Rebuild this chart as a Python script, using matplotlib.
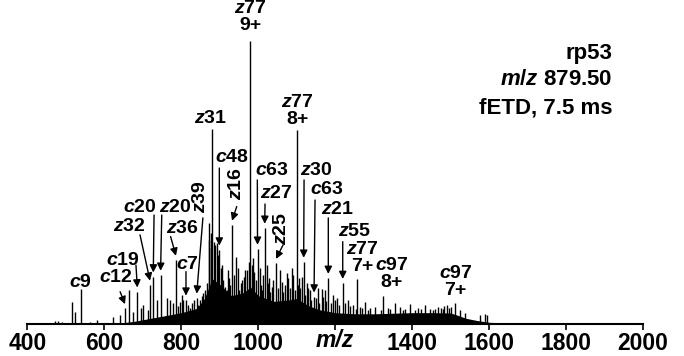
import matplotlib
matplotlib.use('Agg')
import matplotlib.pyplot as plt
from matplotlib.transforms import blended_transform_factory

plt.rcParams['font.family'] = ['Liberation Sans', 'DejaVu Sans']
plt.rcParams['font.weight'] = 'bold'
plt.rcParams['mathtext.fontset'] = 'custom'
plt.rcParams['mathtext.it'] = 'Liberation Sans:italic:bold'
plt.rcParams['mathtext.rm'] = 'Liberation Sans:bold'
plt.rcParams['mathtext.bf'] = 'Liberation Sans:bold'

# resolved peaks: m/z and relative intensity (%)
peak_mz = [471.5, 480, 489, 515, 523.5, 538.3, 562.5, 581.5, 606, 623, 640.5,
           653.5, 664, 675, 685.5, 694, 701, 714, 718.5, 727, 736, 746, 762,
           770.5, 779, 786, 796.5, 801, 812, 818, 827, 840, 848.5, 857, 866,
           872.7, 876, 880.5, 887.5, 892, 898.7, 905.7, 913.5, 924, 931.7,
           942, 954.3, 963.7, 970.7, 978.5, 985.5, 998, 1007, 1016.7, 1022.7,
           1028.7, 1035, 1046, 1061, 1074, 1087, 1100, 1106, 1118, 1126,
           1134.5, 1145, 1156, 1165, 1173.5, 1182, 1195, 1204.7, 1219.5, 1233,
           1257.5, 1277.5, 1323.5, 1355.5, 1394.5, 1433.5, 1483, 1501, 1511.5,
           1576.5, 1589.5]
peak_int = [1.2, 0.9, 0.7, 7.8, 4.3, 12.3, 0.7, 1.4, 0.5, 2.6, 3.2,
            5.5, 12.0, 4.3, 11.4, 5.6, 6.7, 5.0, 13.8, 16.7, 8.5, 17.3, 9.1,
            8.5, 7.4, 22.6, 7.9, 10.2, 8.5, 6.7, 7.3, 9.2, 8.5, 10.8, 14.4,
            35.6, 26.7, 68.9, 27.9, 28.6, 26.2, 20.8, 13.2, 16.3, 35.0,
            23.8, 14.5, 16.7, 19.0, 100.0, 23.2, 26.5, 13.8, 33.9, 20.9,
            16.3, 13.2, 21.5, 15.0, 17.9, 19.7, 68.6, 16.3, 21.9, 14.4,
            12.0, 9.6, 12.7, 12.3, 12.0, 16.2, 10.2, 9.2, 14.4, 8.5,
            15.8, 7.8, 9.9, 7.4, 7.1, 6.7, 6.4, 6.0, 7.5,
            3.2, 3.4]

# smaller peaks in the crowded region
minor_mz = [791.3, 804.3, 822.5, 832.9, 843.3, 853.7, 861.5, 870.6, 877.1,
            883.6, 894, 903.1, 908.3, 917.4, 921.3, 926.5, 936.9, 947.3, 949.9,
            957.7, 965.5, 975.9, 982.4, 988.9, 994.1, 1004.5, 1009.7, 1012.3,
            1025.3, 1030.5, 1038.3, 1051.3, 1056.5, 1064.3, 1069.5, 1077.3,
            1082.5, 1090.3, 1095.5, 1103.3, 1108.5, 1113.7, 1121.5, 1129.3,
            1137.1, 1150.1, 1157.9, 1168.3, 1176.1, 1189.1, 1199.5, 1209.9,
            1225.5, 1238.5, 1246.3, 1264.5, 1290.5, 1303.5, 1337.3, 1368.5,
            1381.5, 1415.3, 1446.5, 1467.3, 1490.7, 1524.5, 1537.5,
            1253, 1269, 1284, 1318, 1342, 1375, 1407.5, 1422, 1455, 1460,
            1475, 1481, 1495, 1594]
minor_int = [6.4, 8.5, 5.7, 8.5, 6.7, 9.9, 12.0, 29.7, 32.2,
             29.0, 24.4, 19.8, 15.6, 12.0, 19.1, 13.8, 17.3, 19.8, 12.0,
             15.6, 19.1, 21.9, 20.9, 18.4, 15.6, 19.8, 12.0, 17.3,
             14.5, 11.3, 15.6, 12.7, 19.1, 11.3, 13.8, 16.3,
             12.7, 17.3, 12.0, 13.8, 12.7, 16.6, 10.2, 12.7,
             8.5, 9.2, 7.4, 9.5, 8.1, 7.4, 8.5, 6.7,
             7.4, 6.4, 6.7, 6.0, 5.7, 6.0, 5.7, 6.0,
             5.3, 5.7, 5.3, 6.0, 6.7, 4.9, 3.9,
             5.2, 5.5, 4.8, 5.0, 5.4, 5.1, 4.9, 5.2, 4.9, 5.3,
             5.5, 5.2, 5.8, 3.2]

# unresolved chemical noise
env_mz = [400, 600, 640, 680, 720, 760, 800, 840, 860, 880, 900, 930, 960,
          980, 1000, 1040, 1080, 1100, 1130, 1160, 1200, 1250, 1300, 1350,
          1400, 1450, 1500, 1520, 1540, 1570, 1600, 1650, 1700, 1800, 1900,
          2000]
env_int = [0, 0, 0.3, 1.0, 2.0, 3.0, 4.0, 5.5, 9, 16, 14, 10, 11,
           13, 10, 8, 8.5, 9, 6.5, 5, 4, 3.6, 3.6, 3.8,
           4.0, 4.0, 3.9, 3.0, 2.0, 1.2, 0.6, 0.35, 0.3, 0.2, 0.12,
           0]

# fragment ions labelled straight above the peak
top_labels = ['$c$9', '$z$31', '$z$77\n9+', '$z$77\n8+', '$z$77\n7+',
              '$c$97\n8+', '$c$97\n7+']
top_text_xy = [(537.8, 14.8), (876, 72.5), (979.8, 108.5), (1102, 75.3),
               (1269.7, 23.4), (1347, 17.6), (1513, 14.7)]

# fragment ions labelled with an arrow: label, peak m/z
arrow_labels = ['$c$12', '$c$19', '$z$32', '$c$20', '$z$20', '$z$36', '$c$7',
                '$z$39', '$c$48', '$z$16', '$c$63', '$z$27', '$z$25', '$z$30',
                '$c$63', '$z$21', '$z$55']
arrow_mz = [653.5, 685.5, 718.5, 727, 746, 786, 812, 840, 898.7, 931.7, 998,
            1016.7, 1046, 1118, 1145, 1182, 1219.5]
arrow_text_xy = [(630, 16.6), (648.3, 22.4), (664, 34.4), (692.5, 41.3),
                 (783.5, 41.3), (801.7, 33.6), (817, 21.2), (848.5, 44.9),
                 (931, 58.7), (943.9, 49.5), (1035, 54.2), (1048, 46.2),
                 (1061, 33.6), (1152, 54.4), (1178, 47.4), (1205.5, 40.6),
                 (1249, 32.6)]
arrow_tail_xy = [(640.8, 11.4), (682, 20.8), (692.5, 31.5), (729, 38.5),
                 (749, 38.5), (772, 30.9), (812, 18.5), (856, 37.5),
                 (898.7, 55.1), (944, 41.5), (997.5, 50.9), (1017.5, 42.4),
                 (1064.3, 27.9), (1119, 50.9), (1147.5, 43.8), (1182, 37.5),
                 (1219.5, 29.1)]
arrow_rot = [0, 0, 0, 0, 0, 0, 0, 90, 0, 90, 0, 0, 90, 0, 0, 0, 0]

x_ticks = list(range(400, 2001, 200))
x_ticklabels = ['400', '600', '800', '1000', '', '1400', '1600', '1800', '2000']

fig = plt.figure(figsize=(6.84, 3.56), dpi=100)
ax = fig.add_axes([0.0402, 0.0899, 0.8998, 0.9101])

ax.fill_between(env_mz, 0, env_int, color='black', lw=0)
ax.vlines(minor_mz, 0, minor_int, color='black', lw=1.0)
ax.vlines(peak_mz, 0, peak_int, color='black', lw=1.0)

lab_size = 14
for lab, (tx, ty) in zip(top_labels, top_text_xy):
    ax.text(tx, ty, lab, ha='center', va='center', fontsize=lab_size,
            linespacing=1.0)

for lab, mz, (tx, ty), tail, rot in zip(arrow_labels, arrow_mz, arrow_text_xy,
                                         arrow_tail_xy, arrow_rot):
    ax.text(tx, ty, lab, ha='center', va='center', fontsize=lab_size,
            rotation=rot)
    height = peak_int[peak_mz.index(mz)]
    ax.annotate('', xy=(mz, height + 1.5), xytext=tail,
                arrowprops=dict(arrowstyle='-|>', color='black', lw=1.0,
                                mutation_scale=11, shrinkA=0, shrinkB=0))

ax.set_xlim(400, 2000)
ax.set_ylim(0, 114.5)
for side in ['top', 'left', 'right']:
    ax.spines[side].set_visible(False)
ax.spines['bottom'].set_linewidth(1.5)
ax.set_yticks([])
ax.set_xticks(x_ticks)
ax.set_xticklabels(x_ticklabels)
ax.tick_params(axis='x', direction='out', length=4, width=1.2, pad=2,
               labelsize=16.5)
for t in ax.get_xticklabels():
    t.set_fontweight('bold')

trans = blended_transform_factory(ax.transData, ax.transAxes)
ax.text(1200, -0.052, 'm/z', transform=trans, ha='center', va='center',
        fontsize=16.5, style='italic')

fig.text(0.896, 0.8334, 'rp53', ha='right', va='baseline', fontsize=16)
fig.text(0.896, 0.760, r'$\mathit{m/z}$ 879.50', ha='right', va='baseline',
         fontsize=16)
fig.text(0.896, 0.682, 'fETD, 7.5 ms', ha='right', va='baseline', fontsize=16)

fig.savefig('out.png', dpi=100)
